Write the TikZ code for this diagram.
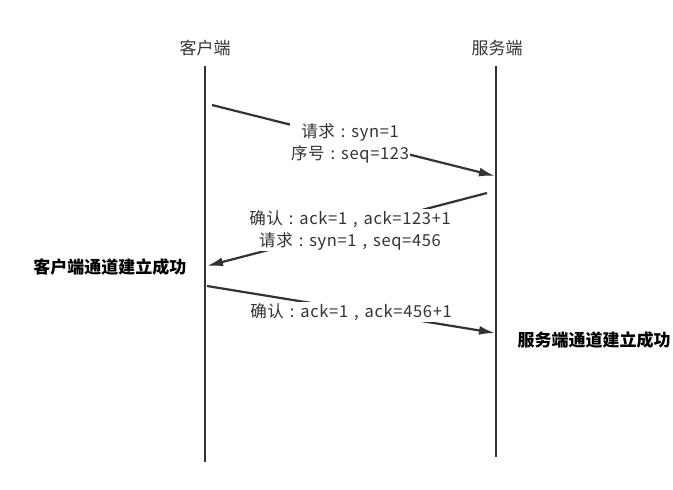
\documentclass[tikz,border=0pt]{standalone}
\usepackage{fontspec}
\setmainfont{Noto Sans CJK SC}
\usetikzlibrary{arrows.meta}

\definecolor{linegray}{HTML}{333333}

% centred colon and comma, each one full character wide
\newcommand{\fcolon}{\makebox[1em]{:}}
\newcommand{\fcomma}{\makebox[1em]{,}}

\tikzset{
    lifeline/.style={draw=linegray, line width=2.4pt},
    msg/.style={draw=linegray, line width=2.2pt, -{Latex[length=16pt,width=9pt]}},
    msglabel/.style={fill=white, inner sep=1pt, font=\fontsize{16.5}{22}\selectfont\addfontfeature{LetterSpace=4}, align=center, text=linegray},
    endname/.style={font=\fontsize{17}{18}\selectfont, text=linegray},
    donelabel/.style={font=\fontsize{17}{18}\selectfont\bfseries, text=black}
}

\begin{document}
\begin{tikzpicture}[x=1pt, y=-1pt]
    \useasboundingbox[fill=white] (0,0) rectangle (673,490);

    % The two ends and their lifelines.
    \node[endname] (client) at (205,48) {客户端};
    \node[endname] (server) at (497,48) {服务端};
    \coordinate (clientTop) at (205,66);
    \coordinate (clientBot) at (205,462);
    \coordinate (serverTop) at (496,66);
    \coordinate (serverBot) at (496,457);
    \draw[lifeline] (clientTop) -- (clientBot);
    \draw[lifeline] (serverTop) -- (serverBot);

    % Start and end points of the three messages.
    \coordinate (synFrom) at (212,105);
    \coordinate (synTo) at (495,176);
    \coordinate (synAckFrom) at (487,193);
    \coordinate (synAckTo) at (207,266);
    \coordinate (ackFrom) at (207,286);
    \coordinate (ackTo) at (495,333);

    \draw[msg] (synFrom) -- (synTo);
    \draw[msg] (synAckFrom) -- (synAckTo);
    \draw[msg] (ackFrom) -- (ackTo);

    % Labels sit on top of the arrows with a white background.
    \node[msglabel] (synText) at (350,143) {请求\fcolon syn=1\\序号\fcolon seq=123};
    \node[msglabel] (synAckText) at (350,230) {确认\fcolon ack=1\fcomma ack=123+1\\请求\fcolon syn=1\fcomma seq=456};
    \node[msglabel] (ackText) at (351,312) {确认\fcolon ack=1\fcomma ack=456+1};

    % Results on each side.
    \node[donelabel] (clientDone) at (110,267) {客户端通道建立成功};
    \node[donelabel] (serverDone) at (594,340) {服务端通道建立成功};
\end{tikzpicture}
\end{document}
